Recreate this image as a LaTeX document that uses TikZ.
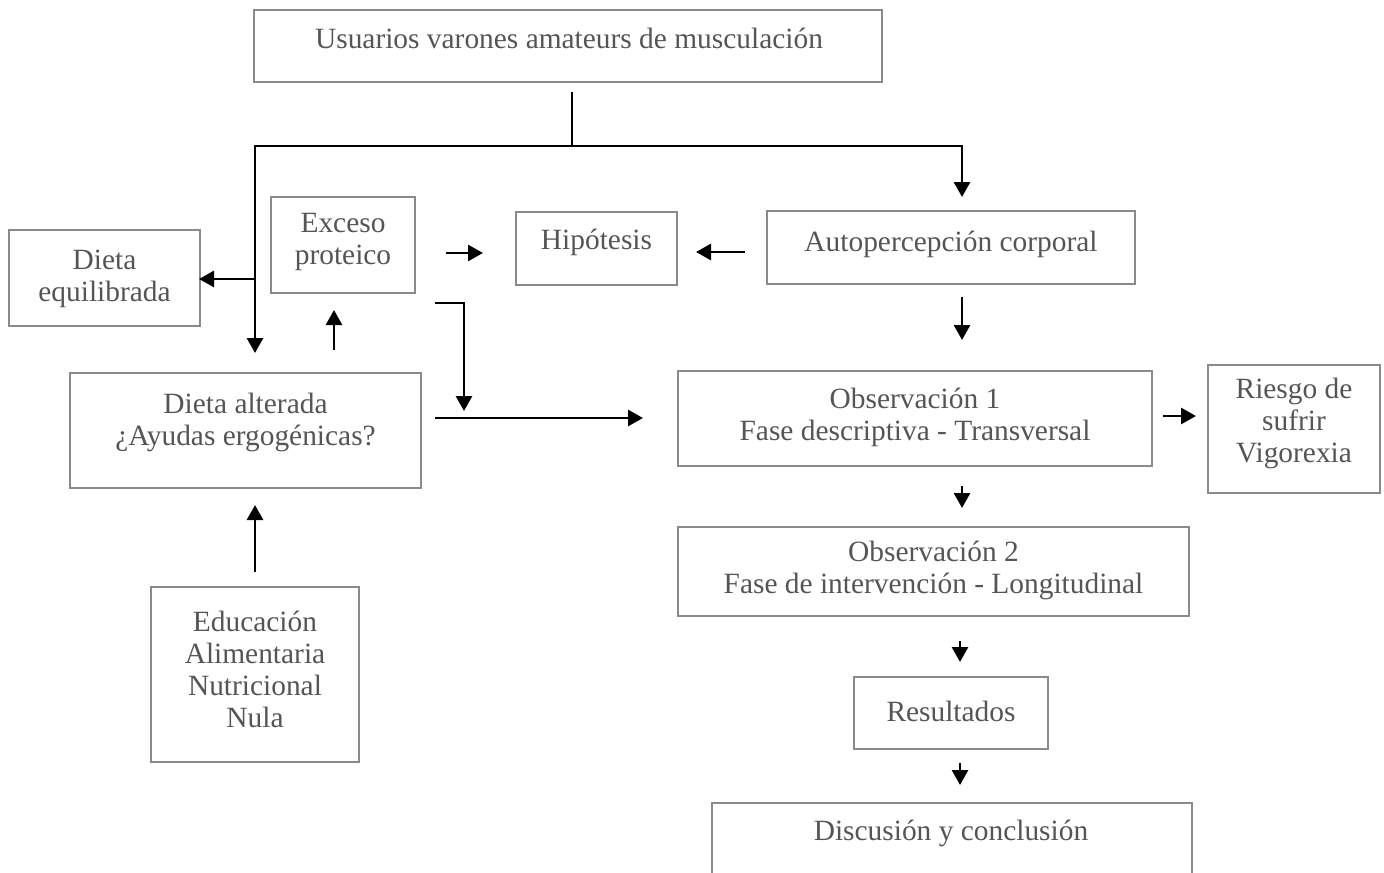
\documentclass[tikz,border=0pt]{standalone}
\usepackage{fontspec}
\setmainfont{Liberation Serif}
\usetikzlibrary{arrows.meta}
\definecolor{boxgray}{HTML}{8A8A8A}
\definecolor{txtgray}{HTML}{555555}
\tikzset{
  box/.style={draw=boxgray, line width=1.4pt, inner sep=0pt, fill=white},
  txt/.style={text=txtgray, align=center, inner sep=0pt,
    font=\fontsize{14.7pt}{16pt}\selectfont},
  link/.style={line width=1.4pt, line join=miter},
  arr/.style={link, -{Triangle[length=7.5pt,width=8pt]}}
}
\begin{document}
\begin{tikzpicture}[x=0.5pt,y=-0.5pt]
\useasboundingbox (0,0) rectangle (1384,872);
\clip (0,0) rectangle (1384,872);

% boxes
\node[box, minimum width=314pt, minimum height=36pt] (top) at (568,46) {};
\node[box, minimum width=95.5pt, minimum height=48pt] (dequi) at (104.5,278) {};
\node[box, minimum width=72pt, minimum height=48pt] (exceso) at (343,245) {};
\node[box, minimum width=80.5pt, minimum height=36.5pt] (hipo) at (596.5,248.5) {};
\node[box, minimum width=184pt, minimum height=36.5pt] (auto) at (951,247.5) {};
\node[box, minimum width=175.5pt, minimum height=57.5pt] (dalt) at (245.5,430.5) {};
\node[box, minimum width=104pt, minimum height=87.5pt] (edu) at (255,674.5) {};
\node[box, minimum width=237pt, minimum height=47.5pt] (obs1) at (915,418.5) {};
\node[box, minimum width=86pt, minimum height=64pt] (riesgo) at (1294,429) {};
\node[box, minimum width=255.5pt, minimum height=44.5pt] (obs2) at (933.5,571.5) {};
\node[box, minimum width=97pt, minimum height=36pt] (res) at (951,713) {};
\node[box, minimum width=240pt, minimum height=50pt] (disc) at (952,853) {};

% texts
\node[txt] (topT) at (569,38) {Usuarios varones amateurs de musculación};
\node[txt] (dequiT) at (104.5,279) {Dieta\\equilibrada};
\node[txt] (excesoT) at (343,242) {Exceso\\proteico};
\node[txt] (hipoT) at (596.5,242) {Hipótesis};
\node[txt] (autoT) at (951,244) {Autopercepción corporal};
\node[txt] (daltT) at (245.5,422) {Dieta alterada\\¿Ayudas ergogénicas?};
\node[txt] (eduT) at (255,669) {Educación\\Alimentaria\\Nutricional\\Nula};
\node[txt] (obs1T) at (915,417) {Observación 1\\Fase descriptiva - Transversal};
\node[txt] (riesgoT) at (1294,423) {Riesgo de\\sufrir\\Vigorexia};
\node[txt] (obs2T) at (933.5,570) {Observación 2\\Fase de intervención - Longitudinal};
\node[txt] (resT) at (951,711) {Resultados};
\node[txt] (discT) at (951,833) {Discusión y conclusión};

% connector end points
\coordinate (trunkA) at (572,92);
\coordinate (trunkB) at (572,146);
\coordinate (toDalt) at (255,353);
\coordinate (toAuto) at (962,197);
\coordinate (branch) at (255,279);
\coordinate (toDequi) at (199,279);
\coordinate (upA) at (334,350);
\coordinate (upB) at (334,310);
\coordinate (exA) at (446,253);
\coordinate (exB) at (483,253);
\coordinate (auA) at (745,252);
\coordinate (auB) at (696,252);
\coordinate (adA) at (962,297);
\coordinate (adB) at (962,340);
\coordinate (elA) at (435,303);
\coordinate (elB) at (464,411);
\coordinate (daA) at (435,418);
\coordinate (daB) at (643,418);
\coordinate (riA) at (1163,416);
\coordinate (riB) at (1196,416);
\coordinate (o1A) at (962,486);
\coordinate (o1B) at (962,508);
\coordinate (o2A) at (960,641);
\coordinate (o2B) at (960,662);
\coordinate (reA) at (960,763);
\coordinate (reB) at (960,785);
\coordinate (edA) at (255,572);
\coordinate (edB) at (255,505);

% connectors
\draw[link] (trunkA) -- (trunkB);
\draw[arr] (trunkB) -| (toDalt);
\draw[arr] (trunkB) -| (toAuto);
\draw[arr] (branch) -- (toDequi);
\draw[arr] (upA) -- (upB);
\draw[arr] (exA) -- (exB);
\draw[arr] (auA) -- (auB);
\draw[arr] (adA) -- (adB);
\draw[arr] (elA) -| (elB);
\draw[arr] (daA) -- (daB);
\draw[arr] (riA) -- (riB);
\draw[arr] (o1A) -- (o1B);
\draw[arr] (o2A) -- (o2B);
\draw[arr] (reA) -- (reB);
\draw[arr] (edA) -- (edB);
\end{tikzpicture}
\end{document}
